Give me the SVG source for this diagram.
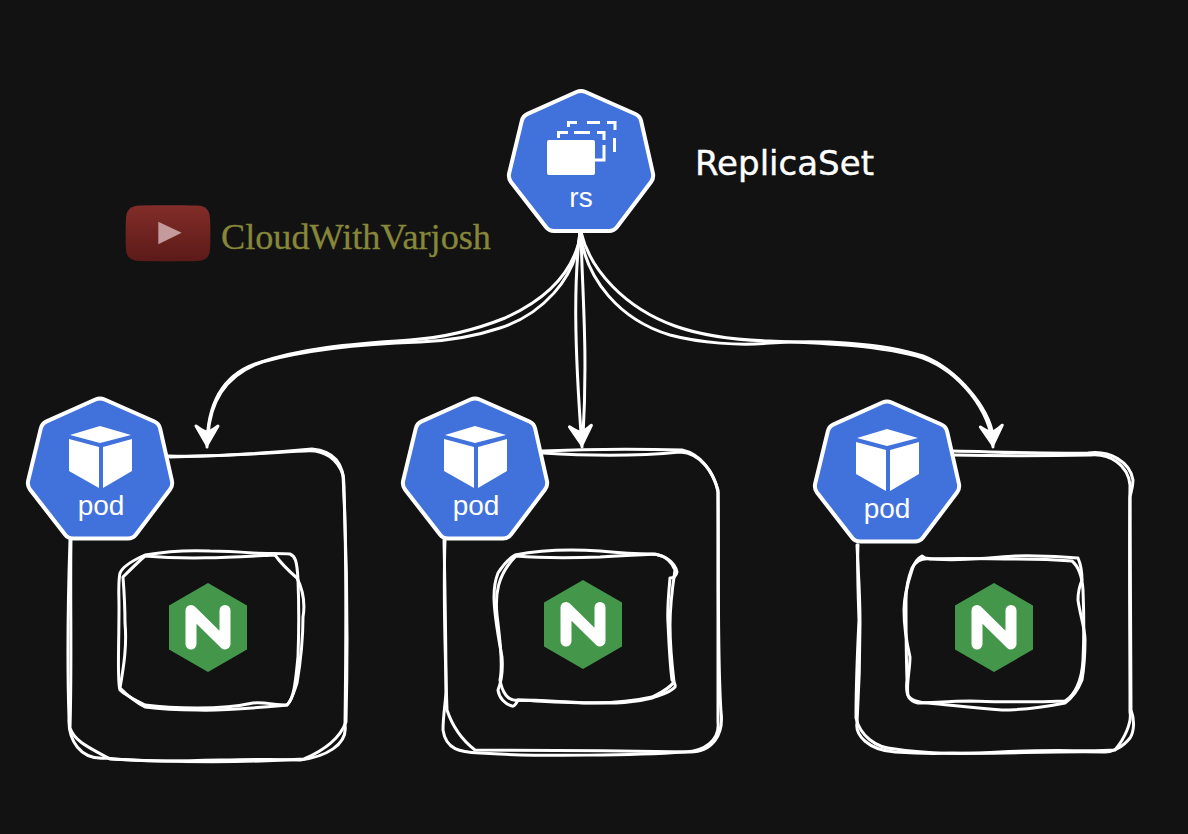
<svg xmlns="http://www.w3.org/2000/svg" width="1188" height="834" viewBox="0 0 1188 834">
<style>
.sk{fill:none;stroke:#fff;stroke-width:3;stroke-linecap:round;stroke-linejoin:round}
.lbl{font-family:"Liberation Sans",Arial,sans-serif;font-size:28px;fill:#fff;text-anchor:middle}
.hep{fill:#4172dc;stroke:#fff;stroke-width:4;stroke-linejoin:round}
.nx{fill:#43964a}
.nn{fill:none;stroke:#fff;stroke-width:11;stroke-linecap:round;stroke-linejoin:round}
.dash{fill:none;stroke:#fff;stroke-width:3}
</style>
<defs>
<marker id="ah" viewBox="-26 -15 30 30" refX="0" refY="0" markerWidth="30" markerHeight="30" markerUnits="userSpaceOnUse" orient="auto">
<path d="M-2 0L-21 -11Q-15 -3 -15 0Q-15 3 -21 11Z" fill="#fff" stroke="#fff" stroke-width="3" stroke-linejoin="round"/>
</marker>
<path id="hept" class="hep" d="M-4.600 2Q0 0 4.600 2L54.400 24Q59 26 60.100 30.900L71.900 83.100Q73 88 70 92L36 137Q33 141 28 141L-27 141Q-32 141 -35 137L-70 92Q-73 88 -71.800 83.100L-59.200 30.900Q-58 26 -53.400 23.900Z"/>
<g id="cube" fill="#fff">
<polygon points="0,28 31,37 0,45 -30,37"/>
<polygon points="-31,41 -1,49 -1,90 -31,73"/>
<polygon points="3,49 32,41 32,73 3,90"/>
</g>
<g id="ngx">
<polygon class="nx" points="0,-44.5 39,-22 39,22 0,44.5 -39,22 -39,-22"/>
<path class="nn" d="M-17 16.500V-17L17 16.500V-17"/>
</g>
<linearGradient id="yt" x1="0" y1="0" x2="0" y2="1">
<stop offset="0" stop-color="#822d29"/>
<stop offset="1" stop-color="#5c1a18"/>
</linearGradient>
</defs>
<rect width="1188" height="834" fill="#121212"/>

<g id="connectors">
<path class="sk" d="M581 232C575 272 545 300 505 318C470 332 440 338 410 340C350 344 300 348 255 364C225 375 207 400 207 447" marker-end="url(#ah)"/>
<path class="sk" d="M580 232C577 280 540 315 500 328C470 338 445 341 420 342C360 344 305 350 262 362C228 374 210 400 208 436"/>
<path class="sk" d="M580 232C574 280 574 340 582 447" marker-end="url(#ah)"/>
<path class="sk" d="M581 232C582 290 588 350 583 436"/>
<path class="sk" d="M581 232C590 270 625 308 675 326C700 335 735 340 770 341C820 343 880 345 923 358C960 372 990 410 993 447" marker-end="url(#ah)"/>
<path class="sk" d="M580 232C586 280 620 320 670 335C700 343 740 346 770 343C820 340 880 342 923 356C958 370 989 408 993 436"/>
</g>

<g id="pod1-box">
<path class="sk" d="M168 456C215 458 260 453 305 451C325 449 338 460 343 475C347 555 348 640 346 722C340 738 325 750 304 759C240 763 170 762 110 759C90 748 75 742 70 728C72 660 70 600 71 538"/>
<path class="sk" d="M170 457C220 456 270 453 312 449C333 451 345 462 344 490C347 570 346 650 345 725C348 745 325 757 300 760C240 757 170 765 105 758C80 760 68 740 69 718C67 660 68 600 70 540"/>
</g>
<g id="pod1-inner">
<path class="sk" d="M145 556C190 560 235 557 275 555C283 566 290 572 297 578C303 590 305 605 303 617C303 640 300 665 297 683C294 692 292 700 287 705C255 708 225 711 197 710C178 710 160 709 145 707C135 702 127 695 120 688C124 665 127 645 125 623C125 605 124 590 123 577C130 570 138 562 145 556Z"/>
<path class="sk" d="M120 573C122 568 127 563 145 555C168 551 190 550 210 551C225 551 240 552 253 553C268 554 280 553 290 554C295 556 297 560 298 580C299 605 299 630 298 657C296 675 295 698 287 705C275 705 265 702 253 703C235 707 215 708 197 708C180 708 160 707 145 705C135 700 125 695 120 690C117 683 119 650 119 607C119 595 118 582 120 573Z"/>
</g>
<g id="pod1-nginx"><use href="#ngx" x="208" y="627.5"/></g>

<g id="pod2-box">
<path class="sk" d="M542 451C590 449 640 449 682 450C700 454 712 470 718 490C719 560 717 650 721 712C724 735 712 752 690 752C620 751 540 750 475 750C462 740 452 725 447 710C445 650 443 600 445 540"/>
<path class="sk" d="M543 453C590 456 640 456 680 452C702 453 715 475 718 492C718 560 718 650 718 722C720 740 705 751 685 752C640 755 540 757 480 753C460 752 446 750 443 730C443 715 446 700 446 690C446 640 445 590 444 540"/>
</g>
<g id="pod2-inner">
<path class="sk" d="M515 555C540 550 570 549 600 551C620 553 640 554 652 554C665 555 675 562 677 572C676 577 672 578 670 578C668 600 667 610 668 623C669 645 670 665 672 680C674 682 676 684 675 687C670 693 660 695 652 698C630 704 610 703 595 703C570 703 540 701 518 700C516 704 514 707 512 706C505 704 499 698 498 690C502 680 503 670 502 657C498 635 494 615 494 597C494 585 496 578 498 573C503 565 510 558 515 555Z"/>
<path class="sk" d="M516 556C540 558 570 558 600 557C625 555 640 555 655 554C665 556 672 562 675 570C672 590 670 610 670 625C670 645 672 665 674 682C668 690 660 693 652 697C630 702 600 704 570 702C550 701 535 700 518 700C508 702 502 692 500 680C503 665 500 640 497 615C495 595 497 575 516 556Z"/>
</g>
<g id="pod2-nginx"><use href="#ngx" x="583" y="624.5"/></g>

<g id="pod3-box">
<path class="sk" d="M953 451C1000 452 1045 454 1088 453C1110 450 1130 462 1133 480C1133 487 1131 492 1130 497C1131 570 1131 640 1131 710C1135 720 1134 732 1130 738C1122 748 1112 752 1105 752C1050 751 1000 754 952 753C930 754 910 753 895 752C868 750 855 735 857 723C859 690 860 655 860 623C860 590 858 570 857 545"/>
<path class="sk" d="M953 455C1000 456 1045 456 1090 455C1110 453 1128 465 1130 485C1129 560 1130 640 1130 712C1132 722 1125 738 1115 750C1090 752 1050 749 1000 752C960 755 920 753 895 749C875 748 860 735 856 718C856 680 858 640 859 620C858 590 857 565 858 545"/>
</g>
<g id="pod3-inner">
<path class="sk" d="M925 558C950 562 985 558 1015 556C1040 555 1060 557 1078 558C1081 565 1082 573 1082 580C1079 587 1078 593 1078 600C1080 615 1085 628 1085 640C1085 655 1084 668 1082 680C1078 690 1072 698 1065 703C1045 707 1025 710 1002 710C975 708 950 705 928 703C920 703 910 700 908 695C906 685 910 670 910 657C906 640 904 625 904 610C904 595 908 582 912 570C914 563 918 558 922 556Z"/>
<path class="sk" d="M912 568C916 561 922 558 930 559C960 558 990 559 1015 559C1040 559 1060 560 1072 561C1078 566 1082 575 1083 590C1084 615 1084 640 1083 660C1082 680 1075 695 1065 701C1040 702 1000 702 970 701C950 701 930 703 918 703C910 701 905 697 907 680C906 650 906 620 906 600C906 590 908 578 912 568Z"/>
</g>
<g id="pod3-nginx"><use href="#ngx" x="994" y="627.5"/></g>

<g id="rs">
<use href="#hept" x="581" y="90"/>
<path class="dash" d="M568.500 127V122.500H577M587 122.500H600M607 122.500H615V130M614.500 138V152"/>
<path class="dash" d="M558.500 138V132.500H568M574 132.500H590M597 132.500H604V140M604 145V160H595"/>
<rect x="547" y="140" width="48" height="35" rx="2" fill="#fff"/>
<text class="lbl" x="581" y="207">rs</text>
</g>
<g id="pod1">
<use href="#hept" x="100" y="397.5"/>
<use href="#cube" x="100" y="398"/>
<text class="lbl" x="101" y="515">pod</text>
</g>
<g id="pod2">
<use href="#hept" x="475" y="397.5"/>
<use href="#cube" x="475" y="398"/>
<text class="lbl" x="476" y="515">pod</text>
</g>
<g id="pod3">
<use href="#hept" x="887" y="400.5"/>
<use href="#cube" x="887" y="401"/>
<text class="lbl" x="887" y="518">pod</text>
</g>

<g id="replicaset-label">
<text x="695" y="175" font-family="'DejaVu Sans',sans-serif" font-size="34" fill="#fff" stroke="#fff" stroke-width="0.4" textLength="179" lengthAdjust="spacingAndGlyphs">ReplicaSet</text>
</g>
<g id="youtube">
<path d="M140 205.500C160 205 180 205 197 205.500C206 206 209.500 210 210 218C210.500 228 210.500 240 210 249C209.500 257 206 260.500 197 261C180 261.500 160 261.500 140 261C130 260.500 126.500 257 126 249C125.500 240 125.500 228 126 218C126.500 210 130 206 140 205.500Z" fill="url(#yt)"/>
<polygon points="158.300,221.700 181.700,232.700 158.300,244.300" fill="#c49a9d"/>
</g>
<g id="brand">
<text x="221" y="249" font-family="'Liberation Serif','Times New Roman',serif" font-size="36.200" fill="#87873a" stroke="#87873a" stroke-width="0.3">CloudWithVarjosh</text>
</g>
</svg>
